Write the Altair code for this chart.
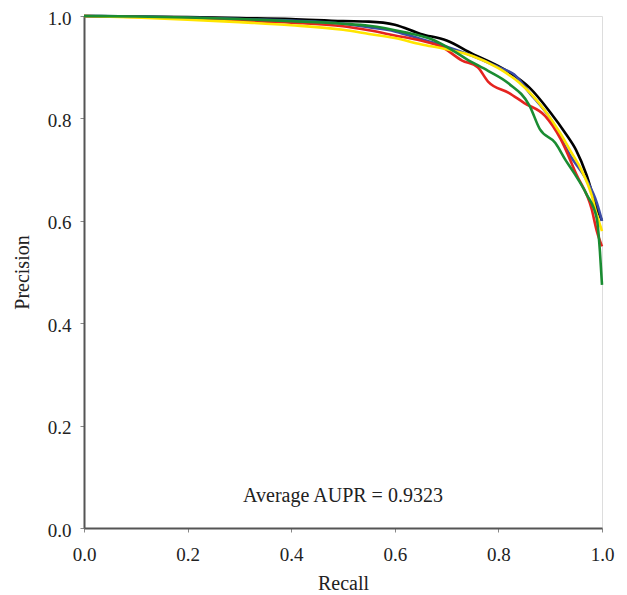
import altair as alt
import pandas as pd

# Recall / precision, one list pair per model
black_x = [0.0, 0.1, 0.2, 0.3, 0.4, 0.5, 0.55, 0.6, 0.65, 0.7, 0.75, 0.8, 0.83, 0.86, 0.9, 0.93, 0.95, 0.97, 0.99, 1.0]
black_y = [1.0, 0.999, 0.998, 0.996, 0.994, 0.990, 0.989, 0.983, 0.965, 0.952, 0.926, 0.902, 0.884, 0.860, 0.812, 0.770, 0.738, 0.690, 0.625, 0.600]

blue_x = [0.0, 0.1, 0.2, 0.3, 0.4, 0.5, 0.55, 0.6, 0.65, 0.7, 0.76, 0.8, 0.83, 0.86, 0.9, 0.94, 0.97, 0.99, 1.0]
blue_y = [1.0, 0.999, 0.997, 0.994, 0.991, 0.985, 0.978, 0.970, 0.955, 0.940, 0.918, 0.900, 0.886, 0.850, 0.800, 0.725, 0.680, 0.635, 0.600]

red_x = [0.0, 0.1, 0.2, 0.3, 0.4, 0.5, 0.55, 0.6, 0.65, 0.69, 0.73, 0.76, 0.78, 0.82, 0.85, 0.89, 0.92, 0.95, 0.98, 0.99, 1.0]
red_y = [1.0, 0.998, 0.995, 0.991, 0.987, 0.980, 0.972, 0.962, 0.952, 0.940, 0.913, 0.900, 0.872, 0.850, 0.830, 0.805, 0.760, 0.692, 0.623, 0.580, 0.550]

yellow_x = [0.0, 0.1, 0.2, 0.3, 0.4, 0.5, 0.55, 0.6, 0.65, 0.7, 0.75, 0.8, 0.84, 0.89, 0.92, 0.94, 0.96, 0.98, 0.99, 1.0]
yellow_y = [1.0, 0.997, 0.993, 0.988, 0.982, 0.973, 0.965, 0.957, 0.945, 0.935, 0.922, 0.898, 0.870, 0.815, 0.770, 0.735, 0.700, 0.650, 0.612, 0.580]

green_x = [0.0, 0.1, 0.2, 0.3, 0.4, 0.5, 0.55, 0.62, 0.67, 0.71, 0.74, 0.78, 0.82, 0.86, 0.88, 0.91, 0.93, 0.945, 0.97, 0.99, 0.996, 1.0]
green_y = [1.0, 0.999, 0.997, 0.994, 0.990, 0.985, 0.981, 0.968, 0.955, 0.934, 0.915, 0.893, 0.868, 0.825, 0.779, 0.752, 0.718, 0.695, 0.652, 0.604, 0.540, 0.475]

series_names = ["black", "blue", "red", "yellow", "green"]
series_colors = ["#000000", "#3b4ca6", "#e5231f", "#ffe500", "#1a8c32"]
series_x = [black_x, blue_x, red_x, yellow_x, green_x]
series_y = [black_y, blue_y, red_y, yellow_y, green_y]

annotation_text = "Average AUPR = 0.9323"
annotation_x = 0.5
annotation_y = 0.062

x_ticks = [0.0, 0.2, 0.4, 0.6, 0.8, 1.0]
y_ticks = [0.0, 0.2, 0.4, 0.6, 0.8, 1.0]

rows = []
for k, (name, xs, ys) in enumerate(zip(series_names, series_x, series_y)):
    for i, (xv, yv) in enumerate(zip(xs, ys)):
        rows.append({"model": name, "order": k, "i": i, "recall": xv, "precision": yv})
df = pd.DataFrame(rows)

FONT = "Liberation Serif"

x_enc = alt.X(
    "recall:Q",
    scale=alt.Scale(domain=[0, 1], nice=False),
    axis=alt.Axis(
        title="Recall", values=x_ticks, format=".1f", grid=False, labelFlush=False,
        labelFont=FONT, labelFontSize=19, labelColor="#222",
        titleFont=FONT, titleFontSize=20, titleFontWeight="normal", titleColor="#222",
        tickSize=4, tickColor="#888", labelPadding=13, titlePadding=9,
        domainColor="#555", domainWidth=2,
    ),
)
y_enc = alt.Y(
    "precision:Q",
    scale=alt.Scale(domain=[0, 1], nice=False),
    axis=alt.Axis(
        title="Precision", values=y_ticks, format=".1f", grid=False, labelFlush=False,
        labelOffset=2,
        labelFont=FONT, labelFontSize=19, labelColor="#222",
        titleFont=FONT, titleFontSize=20, titleFontWeight="normal", titleColor="#222",
        tickSize=4, tickColor="#888", labelPadding=9, titlePadding=15,
        domainColor="#555", domainWidth=2,
    ),
)

lines = alt.Chart(df).mark_line(strokeWidth=2.6, interpolate="monotone").encode(
    x=x_enc,
    y=y_enc,
    color=alt.Color("model:N", scale=alt.Scale(domain=series_names, range=series_colors), legend=None),
    detail="model:N",
    order="i:Q",
)

ann_df = pd.DataFrame({"recall": [annotation_x], "precision": [annotation_y], "text": [annotation_text]})
ann = alt.Chart(ann_df).mark_text(font=FONT, fontSize=20, color="#222", align="center", baseline="middle").encode(
    x="recall:Q", y="precision:Q", text="text:N"
)

chart = (
    alt.layer(lines, ann)
    .properties(
        width=518, height=512,
        autosize=alt.AutoSizeParams(type="none"),
        padding={"left": 76, "top": 8, "right": 17, "bottom": 64},
    )
    .configure_view(stroke="#555", strokeWidth=2)
    .configure(background="white")
)

chart.save("out.html", embed_options={"renderer": "svg", "actions": False})
